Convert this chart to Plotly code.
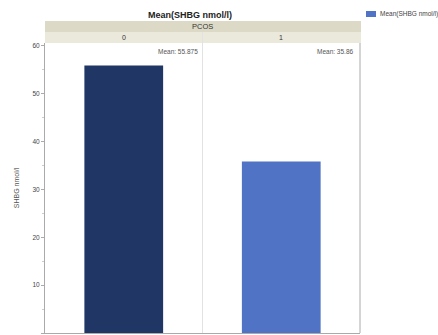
import plotly.graph_objects as go

categories = ["0", "1"]
means = [55.875, 35.86]
labels = ["Mean: 55.875", "Mean: 35.86"]
bar_colors = ["#203766", "#5173c5"]
y_ticks = [0, 10, 20, 30, 40, 50, 60]
series_name = "Mean(SHBG nmol/l)"

W, H = 438, 335
L, R, T, B = 45, 78, 43, 2
ph = H - T - B
pw = W - L - R

def py(y):
    return (H - B - y) / ph

def px(x):
    return (x - L) / pw

fig = go.Figure()
fig.add_trace(go.Bar(x=[categories[0]], y=[means[0]], marker_color=bar_colors[0],
                     marker_line_width=0, width=0.5, showlegend=False, name=series_name))
fig.add_trace(go.Bar(x=[categories[1]], y=[means[1]], marker_color=bar_colors[1],
                     marker_line_width=0, width=0.5, showlegend=False, name=series_name))

shapes = []
shapes.append(dict(type="rect", xref="paper", yref="paper", x0=0, x1=px(361), y0=py(32), y1=py(21),
                   fillcolor="#dcdac6", line_width=0, layer="below"))
shapes.append(dict(type="rect", xref="paper", yref="paper", x0=0, x1=px(361), y0=py(43), y1=py(32),
                   fillcolor="#ebe9dc", line_width=0, layer="below"))
shapes.append(dict(type="line", xref="paper", yref="paper", x0=0.5, x1=0.5, y0=0, y1=py(32),
                   line=dict(color="#e2e2e2", width=1)))
shapes.append(dict(type="line", xref="paper", yref="paper", x0=1, x1=1, y0=0, y1=py(43),
                   line=dict(color="#aaaaaa", width=1)))
# legend swatch
shapes.append(dict(type="rect", xref="paper", yref="paper", x0=px(366), x1=px(376), y0=py(17), y1=py(11),
                   fillcolor=bar_colors[1], line_width=0))

def ann(text, x, y, size, color="#333", xanchor="center"):
    return dict(text=text, xref="paper", yref="paper", x=x, y=y, xanchor=xanchor, yanchor="middle",
                showarrow=False, font=dict(size=size, color=color))

annotations = [
    ann("<b>Mean(SHBG nmol/l)</b>", px(190), py(15), 9, "#222"),
    ann("PCOS", 0.5, py(26.5), 7.5),
    ann(categories[0], 0.25, py(37.5), 7),
    ann(categories[1], 0.75, py(37.5), 7),
    ann(labels[0], px(200), py(51), 6.5, "#555", "right"),
    ann(labels[1], px(356), py(51), 6.5, "#555", "right"),
    ann(series_name, px(378), py(14), 6.5, "#444", "left"),
]

fig.update_layout(
    width=W, height=H, margin=dict(l=L, r=R, t=T, b=B, autoexpand=False),
    paper_bgcolor="white", plot_bgcolor="white",
    font=dict(family="Liberation Sans, Arial", size=6, color="#444"),
    shapes=shapes, annotations=annotations, bargap=0.5,
    showlegend=False,
    xaxis=dict(type="category", range=[-0.5, 1.5], showticklabels=False, showgrid=False,
               showline=True, linecolor="#aaaaaa", linewidth=1, zeroline=False, ticks="",
               automargin=False),
    yaxis=dict(range=[0, 60.6], tickvals=y_ticks, showgrid=False, zeroline=False,
               showline=True, linecolor="#aaaaaa", linewidth=1, ticks="outside", ticklen=3,
               tickcolor="#aaaaaa", tickfont=dict(size=6.5, color="#444"),
               minor=dict(dtick=5, ticks="outside", ticklen=2, tickcolor="#cccccc"),
               automargin=False,
               title=dict(text="SHBG nmol/l", font=dict(size=7, color="#555"), standoff=12)),
)

fig.write_html("out.html", config={"displayModeBar": False},
               post_script="document.body.style.margin='0';")
